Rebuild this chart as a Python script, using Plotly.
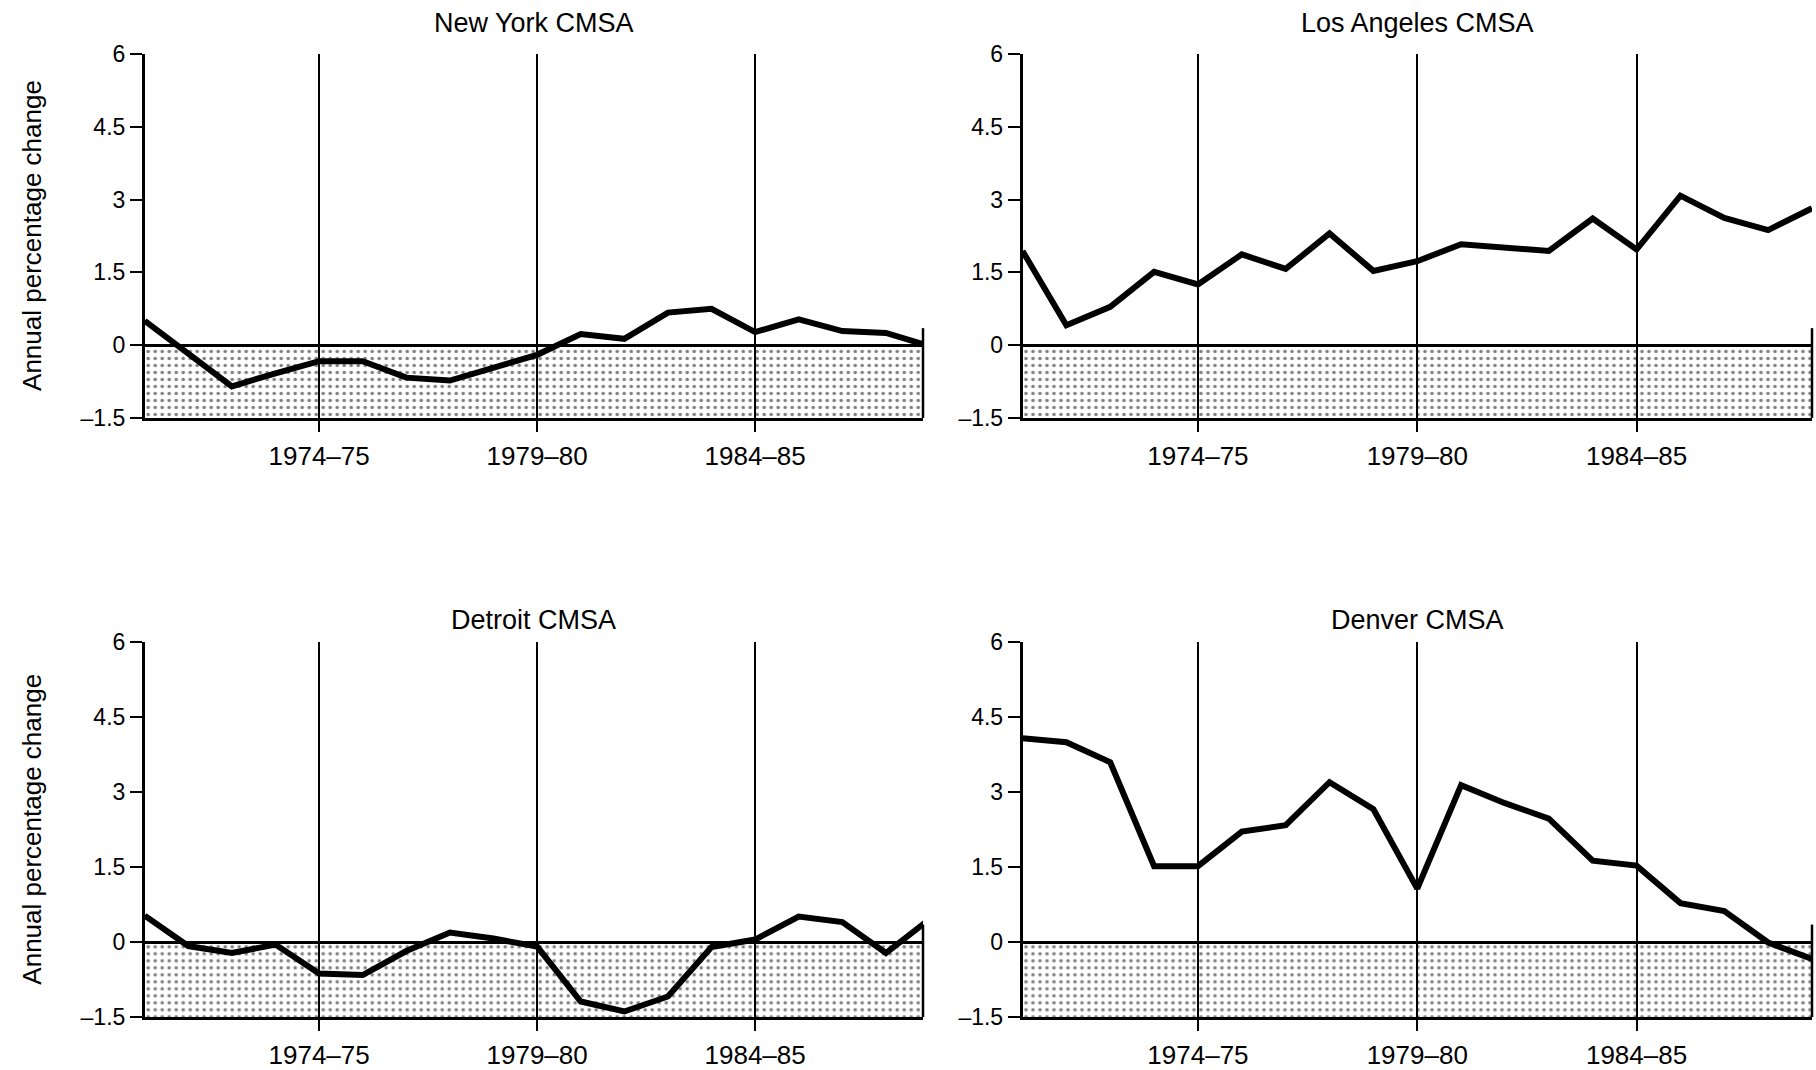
import plotly.graph_objects as go

# ---- data -------------------------------------------------------------
years = ["1970–71", "1971–72", "1972–73", "1973–74", "1974–75", "1975–76",
         "1976–77", "1977–78", "1978–79", "1979–80", "1980–81", "1981–82",
         "1982–83", "1983–84", "1984–85", "1985–86", "1986–87", "1987–88",
         "1988–89"]
tick_years = ["1974–75", "1979–80", "1984–85"]

y_tickvals = [-1.5, 0, 1.5, 3, 4.5, 6]
y_ticktext = ["–1.5", "0", "1.5", "3", "4.5", "6"]

new_york = [0.50, -0.18, -0.85, -0.58, -0.33, -0.33, -0.67, -0.73, -0.47, -0.20,
            0.23, 0.13, 0.67, 0.75, 0.27, 0.53, 0.29, 0.25, -0.02]
los_angeles = [1.94, 0.41, 0.79, 1.51, 1.25, 1.87, 1.57, 2.30, 1.53, 1.73,
               2.08, 2.00, 1.94, 2.61, 1.97, 3.08, 2.62, 2.37, 2.82]
detroit = [0.53, -0.08, -0.22, -0.05, -0.63, -0.66, -0.18, 0.19, 0.07, -0.09,
           -1.19, -1.39, -1.09, -0.10, 0.05, 0.51, 0.40, -0.22, 0.46]
denver = [4.08, 4.00, 3.60, 1.52, 1.52, 2.21, 2.34, 3.20, 2.66, 1.07,
          3.14, 2.78, 2.47, 1.63, 1.53, 0.78, 0.62, -0.01, -0.34]

panels = [
    ("New York CMSA", new_york),
    ("Los Angeles CMSA", los_angeles),
    ("Detroit CMSA", detroit),
    ("Denver CMSA", denver),
]

band_low, band_high = -1.5, 0.0      # shaded "decline" band
edge_top = 0.35                      # height of the right-hand frame edge

# ---- layout geometry (pixels of a 1816 x 1070 page) ---------------------
W, H = 1816, 1070
col_px = [(144.7, 923.0), (1022.5, 1812.0)]
row_px = [(42.0, 415.0), (645.0, 1029.0)]
title_px = [10.0, 622.0]
x_ranges = [[0, 17.85], [0, 18.0]]

FONT = "Liberation Sans, Arial, Helvetica, sans-serif"

fig = go.Figure()
annotations = []
shapes = []

for i, (title, values) in enumerate(panels):
    r, c = divmod(i, 2)
    n = i + 1
    xa = "x" if n == 1 else f"x{n}"
    ya = "y" if n == 1 else f"y{n}"
    xdom = [col_px[c][0] / W, col_px[c][1] / W]
    ydom = [1 - row_px[r][1] / H, 1 - row_px[r][0] / H]

    # shaded band between -1.5 and 0
    fig.add_trace(go.Scatter(
        x=[years[0], years[-1]], y=[band_low, band_low], mode="lines",
        line=dict(width=0, color="rgba(0,0,0,0)"), hoverinfo="skip",
        showlegend=False, xaxis=xa, yaxis=ya))
    fig.add_trace(go.Scatter(
        x=[years[0], years[-1]], y=[band_high, band_high], mode="lines",
        line=dict(width=0, color="rgba(0,0,0,0)"), fill="tonexty",
        fillcolor="rgba(0,0,0,0)",
        fillpattern=dict(shape=".", fgcolor="black", bgcolor="rgba(0,0,0,0)",
                         size=7, solidity=0.2),
        hoverinfo="skip", showlegend=False, xaxis=xa, yaxis=ya))
    # data line
    fig.add_trace(go.Scatter(
        x=years, y=values, mode="lines",
        line=dict(color="black", width=6),
        showlegend=False, name=title, xaxis=xa, yaxis=ya))

    fig.layout[f"xaxis{'' if n == 1 else n}"] = dict(
        domain=xdom, anchor=ya, type="category", categoryorder="array",
        categoryarray=years, range=x_ranges[c],
        tickvals=tick_years, ticktext=tick_years,
        showgrid=True, gridcolor="black", gridwidth=1.5,
        ticks="outside", ticklen=11, tickwidth=1.5, tickcolor="black",
        showline=True, linecolor="black", linewidth=2.5,
        ticklabelstandoff=2,
        tickfont=dict(family=FONT, size=26, color="black"),
        zeroline=False, fixedrange=True)
    fig.layout[f"yaxis{'' if n == 1 else n}"] = dict(
        domain=ydom, anchor=xa, range=[-1.5, 6],
        tickvals=y_tickvals, ticktext=y_ticktext,
        showgrid=False, zeroline=True, zerolinecolor="black", zerolinewidth=2.5,
        ticks="outside", ticklen=12, tickwidth=1.5, tickcolor="black",
        showline=True, linecolor="black", linewidth=2.5,
        tickfont=dict(family=FONT, size=23, color="black"),
        fixedrange=True)

    # right-hand frame edge of the shaded band
    shapes.append(dict(type="line", xref=f"{xa} domain", yref=ya,
                       x0=1, x1=1, y0=band_low, y1=edge_top,
                       line=dict(color="black", width=2.5)))

    # panel title
    annotations.append(dict(
        text=title, xref="paper", yref="paper",
        x=(xdom[0] + xdom[1]) / 2, y=1 - title_px[r] / H,
        xanchor="center", yanchor="middle", showarrow=False,
        font=dict(family=FONT, size=27, color="black")))

    # y-axis title on the left column
    if c == 0:
        annotations.append(dict(
            text="Annual percentage change", xref="paper", yref="paper",
            x=32 / W, y=(ydom[0] + ydom[1]) / 2, textangle=-90,
            xanchor="center", yanchor="middle", showarrow=False,
            font=dict(family=FONT, size=26, color="black")))

fig.update_layout(
    width=W, height=H, margin=dict(l=0, r=0, t=0, b=0),
    paper_bgcolor="white", plot_bgcolor="white",
    annotations=annotations, shapes=shapes,
    font=dict(family=FONT, color="black"),
)

fig.write_html(
    "out.html",
    config={"displayModeBar": False},
    post_script="document.body.style.margin='0';document.body.style.overflow='hidden';",
)
